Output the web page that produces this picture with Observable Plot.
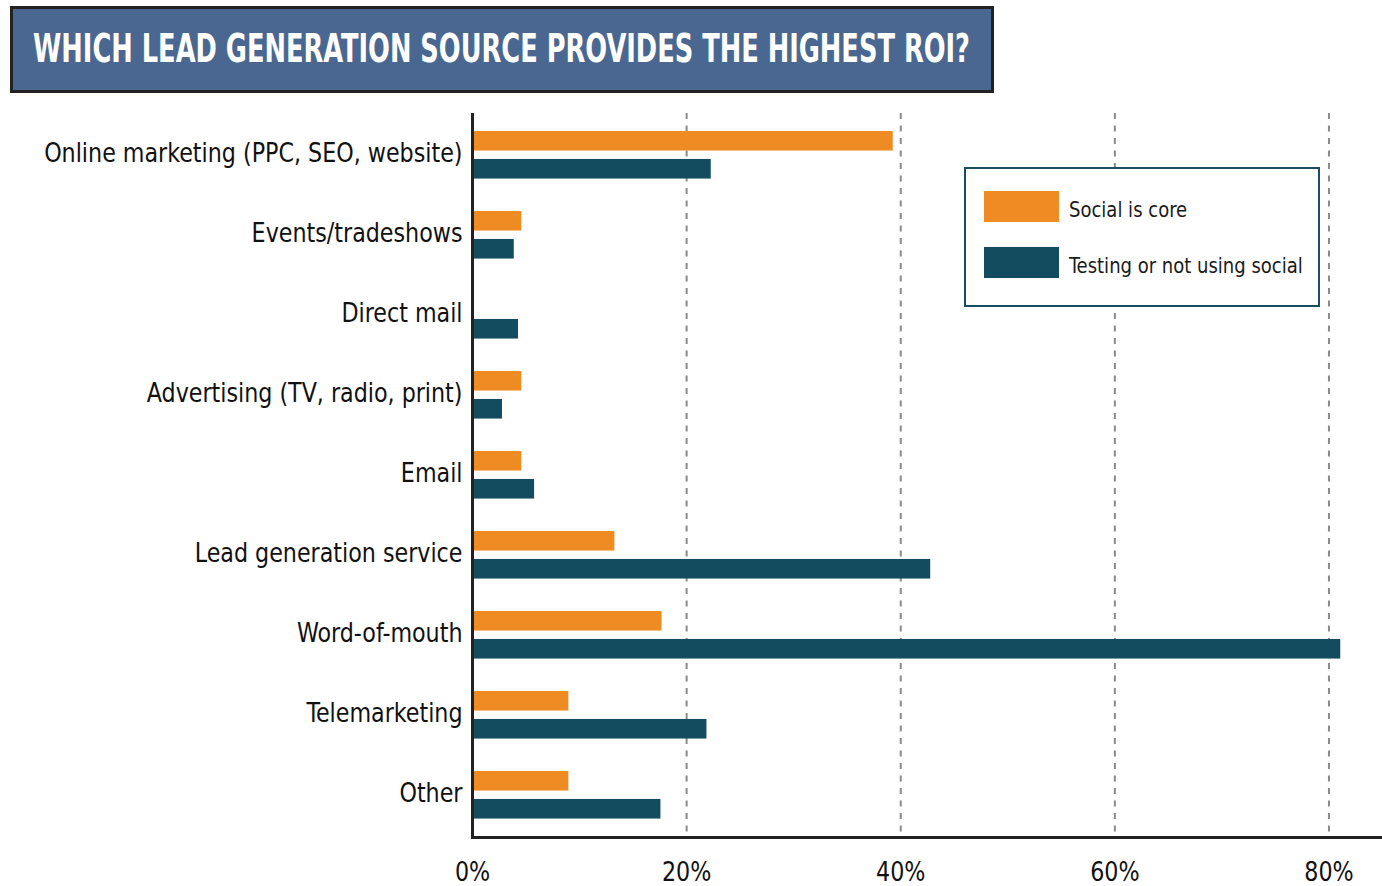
<!DOCTYPE html>
<html>
<head>
<meta charset="utf-8">
<script src="https://cdn.jsdelivr.net/npm/d3@7"></script>
<script src="https://cdn.jsdelivr.net/npm/@observablehq/plot@0.6"></script>
<style>
  html, body { margin: 0; padding: 0; background: #fff; }
  body { width: 1382px; height: 886px; position: relative; overflow: hidden;
         font-family: "DejaVu Sans Condensed", "Liberation Sans Narrow", sans-serif; }
  #title { position: absolute; left: 10px; top: 6px; width: 978px; height: 81px;
           background: #4a6791; border: 3px solid #222; }
  #titleText { position: absolute; left: 20px; top: 20px; font-size: 30px; line-height: 40px; font-weight: bold;
               color: #fff; white-space: nowrap; transform-origin: left center; }
  #chart { position: absolute; left: 0; top: 100px; }
  #legend { position: absolute; left: 964px; top: 167px; width: 352px; height: 136px;
            border: 2px solid #1b4d60; background: #fff; }
  .sw { position: absolute; left: 18px; width: 75px; height: 31px; }
  .lt { position: absolute; left: 103px; font-size: 22px; color: #1a1a1a; line-height: 31px; white-space: nowrap;
        transform: scaleX(0.91); transform-origin: left center; }
</style>
</head>
<body>
<div id="title"><span id="titleText">WHICH LEAD GENERATION SOURCE PROVIDES THE HIGHEST ROI?</span></div>
<div id="chart"></div>
<div id="legend"></div>
<script>
const categories = [
  "Online marketing (PPC, SEO, website)",
  "Events/tradeshows",
  "Direct mail",
  "Advertising (TV, radio, print)",
  "Email",
  "Lead generation service",
  "Word-of-mouth",
  "Telemarketing",
  "Other"
];
const socialIsCore = [39.3, 4.6, 0, 4.6, 4.6, 13.3, 17.7, 9.0, 9.0];
const testingOrNot = [22.3, 3.9, 4.3, 2.8, 5.8, 42.8, 81.1, 21.9, 17.6];
const seriesNames = ["Social is core", "Testing or not using social"];
const seriesColors = ["#ee8b22", "#144c5f"];
const xTicks = [0, 20, 40, 60, 80];

const coreRows = categories.map((c, i) => ({category: c, value: socialIsCore[i]}));
const testRows = categories.map((c, i) => ({category: c, value: testingOrNot[i]}));

// title: stretch to the reference's condensed, tall lettering
const tt = document.getElementById("titleText");
const tw = tt.getBoundingClientRect().width;
tt.style.transform = `scale(${Math.min(937 / tw, 1.2)}, 1.3)`;

const H = 786, MT = 13, MB = 49;
const bw = (H - MT - MB) / categories.length;

const chart = Plot.plot({
  width: 1382,
  height: H,
  marginTop: MT,
  marginBottom: MB,
  marginLeft: 472,
  marginRight: 0,
  style: {fontFamily: '"DejaVu Sans Condensed", sans-serif', background: "transparent"},
  x: {domain: [0, 85], axis: null, label: null},
  y: {domain: categories, padding: 0, axis: null, label: null},
  marks: [
    Plot.ruleX(xTicks.filter(d => d > 0), {stroke: "#8a8a8a", strokeWidth: 2, strokeDasharray: "6,6.5"}),
    Plot.barX(coreRows, {y: "category", x: "value", fill: seriesColors[0], insetTop: 16, insetBottom: bw - 36}),
    Plot.barX(testRows, {y: "category", x: "value", fill: seriesColors[1], insetTop: 44, insetBottom: bw - 64}),
    Plot.ruleX([0], {stroke: "#222", strokeWidth: 3}),
    Plot.frame({anchor: "bottom", stroke: "#222", strokeWidth: 3}),
    Plot.axisY({tickSize: 0, tickPadding: 10, fontSize: 27, fill: "#111", dy: -2, label: null}),
    Plot.axisX({ticks: xTicks, tickSize: 0, tickPadding: 24, fontSize: 27, fill: "#111", label: null, tickFormat: d => d + "%"})
  ]
});
document.getElementById("chart").appendChild(chart);

// condense tick label glyphs horizontally around their anchor
d3.select(chart).selectAll('g[aria-label="y-axis tick label"] text, g[aria-label="x-axis tick label"] text')
  .attr("transform", function() {
    const t = this.getAttribute("transform") || "";
    return t + " scale(0.915,1)";
  });

const legend = document.getElementById("legend");
seriesNames.forEach((name, i) => {
  const sw = document.createElement("div");
  sw.className = "sw";
  sw.style.top = (22 + i * 56) + "px";
  sw.style.background = seriesColors[i];
  legend.appendChild(sw);
  const t = document.createElement("div");
  t.className = "lt";
  t.style.top = (25 + i * 56) + "px";
  t.textContent = name;
  legend.appendChild(t);
});
</script>
</body>
</html>
